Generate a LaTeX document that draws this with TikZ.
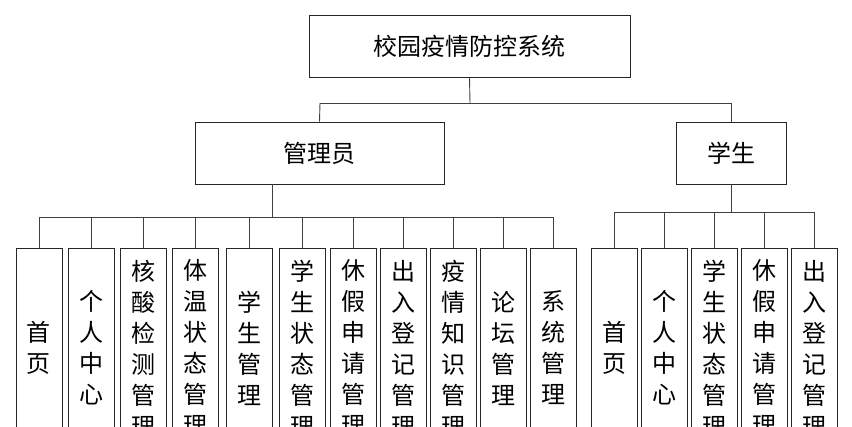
\documentclass[tikz,border=0pt]{standalone}
\usepackage{fontspec}
\newfontfamily\cjk{Noto Sans CJK SC}
\begin{document}
\begin{tikzpicture}[x=1pt,y=-1pt,
  box/.style={draw=black!85,line width=0.9pt,fill=white,inner sep=0pt},
  leaf/.style={box,minimum width=46pt,minimum height=200pt,anchor=north},
  conn/.style={draw=black!75,line width=0.9pt},
  lbl/.style={font=\cjk\fontsize{24}{31}\selectfont,align=center}]
\useasboundingbox (0,0) rectangle (852,427);
\begin{scope}
\clip (0,0) rectangle (852,427);
\node[box,minimum width=321pt,minimum height=62pt,font=\cjk\fontsize{24}{28}\selectfont] (root) at (469.5,46) {校园疫情防控系统};
\node[box,minimum width=249pt,minimum height=62pt,font=\cjk\fontsize{24}{28}\selectfont] (adm) at (319.5,153) {管理员};
\node[box,minimum width=110pt,minimum height=62pt,font=\cjk\fontsize{24}{28}\selectfont] (stu) at (731,153) {学生};
\draw[conn] (root.south) -- (470,103) coordinate (rb);
\draw[conn] (320,103) -- (731,103);
\draw[conn] (320,103) -- (adm.north);
\draw[conn] (731,103) -- (stu.north);
% admin leaves
\draw[conn] (272,184) -- (272,217);
\draw[conn] (39,217) -- (553,217);
\foreach \x/\t [count=\i] in {39/首\\页, 91/个\\人\\中\\心, 143/核\\酸\\检\\测\\管\\理, 195/体\\温\\状\\态\\管\\理, 249/学\\生\\管\\理, 302/学\\生\\状\\态\\管\\理, 353/休\\假\\申\\请\\管\\理, 403/出\\入\\登\\记\\管\\理, 453/疫\\情\\知\\识\\管\\理, 503/论\\坛\\管\\理, 553/系\\统\\管\\理}{
  \draw[conn] (\x,217) -- (\x,248);
  \node[leaf] (a\i) at (\x,248) {};
  \node[lbl] at (\x,348) {\t};
}
% student leaves
\draw[conn] (731,184) -- (731,212);
\draw[conn] (614,212) -- (814,212);
\foreach \x/\t [count=\i] in {614/首\\页, 664/个\\人\\中\\心, 714/学\\生\\状\\态\\管\\理, 764/休\\假\\申\\请\\管\\理, 814/出\\入\\登\\记\\管\\理}{
  \draw[conn] (\x,212) -- (\x,248);
  \node[leaf] (s\i) at (\x,248) {};
  \node[lbl] at (\x,348) {\t};
}
\end{scope}
\end{tikzpicture}
\end{document}
